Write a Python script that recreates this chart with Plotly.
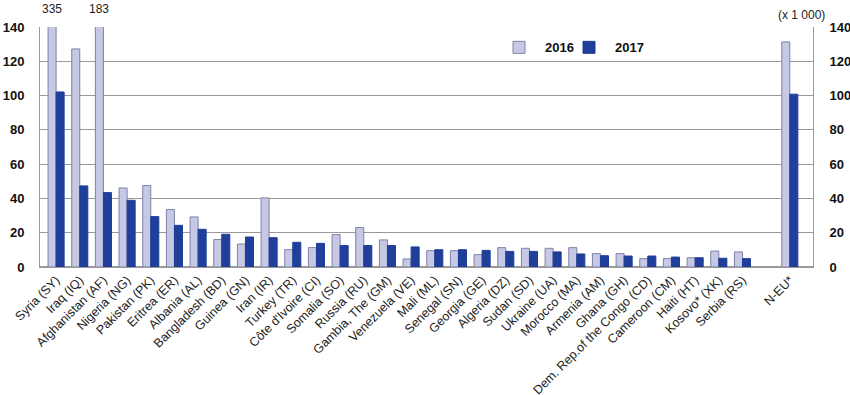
import plotly.graph_objects as go

countries = [
    "Syria (SY)", "Iraq (IQ)", "Afghanistan (AF)", "Nigeria (NG)", "Pakistan (PK)",
    "Eritrea (ER)", "Albania (AL)", "Bangladesh (BD)", "Guinea (GN)", "Iran (IR)",
    "Turkey (TR)", "Côte d'Ivoire (CI)", "Somalia (SO)", "Russia (RU)", "Gambia, The (GM)",
    "Venezuela (VE)", "Mali (ML)", "Senegal (SN)", "Georgia (GE)", "Algeria (DZ)",
    "Sudan (SD)", "Ukraine (UA)", "Morocco (MA)", "Armenia (AM)", "Ghana (GH)",
    "Dem. Rep.of the Congo (CD)", "Cameroon (CM)", "Haiti (HT)", "Kosovo* (XK)", "Serbia (RS)",
    " ", "N-EU*",
]
v2016 = [335, 127.2, 183, 46.1, 47.5, 33.5, 29.2, 16.0, 13.4, 40.3,
         10.1, 11.3, 18.9, 23.0, 15.8, 4.7, 9.5, 9.5, 7.2, 11.3,
         10.9, 10.9, 11.3, 7.8, 7.8, 4.9, 4.9, 5.4, 9.3, 8.8,
         None, 131.3]
v2017 = [102.1, 47.3, 43.4, 38.9, 29.4, 24.3, 22.0, 19.1, 17.5, 17.1,
         14.4, 13.8, 12.5, 12.5, 12.5, 11.7, 10.1, 10.1, 9.7, 9.1,
         9.1, 8.8, 7.6, 6.6, 6.4, 6.4, 5.8, 5.4, 5.1, 4.9,
         None, 100.8]
y_ticks = [0, 20, 40, 60, 80, 100, 120, 140]
y_max = 140

xs = list(range(len(countries)))

fig = go.Figure()
fig.add_trace(go.Bar(
    x=xs, y=v2016, name="2016", legend="legend",
    marker=dict(color="#c6c8e4", line=dict(color="#7e82a8", width=1)),
))
fig.add_trace(go.Bar(
    x=xs, y=v2017, name="2017", legend="legend2",
    marker=dict(color="#1f3f9a", line=dict(color="#1f3f9a", width=1)),
))

# labels for bars exceeding the axis maximum
for i, v in enumerate(v2016):
    if v is not None and v > y_max:
        fig.add_annotation(x=i, y=y_max, xref="x", yref="y", text=f"{v:g}",
                           showarrow=False, yanchor="bottom", xshift=-4, yshift=9,
                           font=dict(family="Liberation Sans, Arial", size=12, color="#222"))

fig.add_annotation(x=1.0, y=1.0, xref="paper", yref="paper", text="(x 1 000)",
                   showarrow=False, xanchor="right", yanchor="bottom", xshift=14, yshift=3,
                   font=dict(family="Liberation Sans, Arial", size=12, color="#222"))

# invisible trace to anchor right axis
fig.add_trace(go.Scatter(x=[xs[0]], y=[0], yaxis="y2", mode="markers",
                         marker=dict(opacity=0), showlegend=False, hoverinfo="skip"))

legend_style = dict(orientation="h", y=0.915, xanchor="left", yanchor="middle",
                    font=dict(family="Liberation Sans, Arial", size=13, color="#111", weight="bold"),
                    itemwidth=42, bgcolor="rgba(255,255,255,0)")

fig.update_layout(
    width=850, height=395,
    margin=dict(l=40, r=37, t=27, b=128),
    paper_bgcolor="white", plot_bgcolor="white",
    barmode="group", bargap=0.32, bargroupgap=0.0,
    font=dict(family="Liberation Sans, Arial", size=12, color="#222"),
    legend=dict(x=(493 - 40) / 773, **legend_style),
    legend2=dict(x=(563 - 40) / 773, **legend_style),
    xaxis=dict(
        range=[-0.68, 31.98], tickmode="array", tickvals=xs, ticktext=countries,
        tickangle=-45, showgrid=False, showline=True, linecolor="#999", linewidth=1,
        ticks="", tickfont=dict(size=12.5, color="#222"), zeroline=False, automargin=False,
    ),
    yaxis=dict(
        range=[0, y_max], tickvals=y_ticks, showgrid=True, gridcolor="#9a9a9a", gridwidth=1,
        showline=True, linecolor="#9a9a9a", linewidth=1, zeroline=True, zerolinecolor="#9a9a9a",
        ticks="", ticklabelstandoff=12, automargin=False,
        tickfont=dict(family="Liberation Sans, Arial", size=13, color="#111", weight="bold"),
    ),
    yaxis2=dict(
        range=[0, y_max], tickvals=y_ticks, overlaying="y", side="right", showgrid=False,
        showline=True, linecolor="#9a9a9a", linewidth=1, zeroline=False,
        ticks="", ticklabelstandoff=13, automargin=False,
        tickfont=dict(family="Liberation Sans, Arial", size=13, color="#111", weight="bold"),
    ),
)

# remove the default 8px page margin so the figure fills the window exactly
fig.write_html("out.html", config={"displayModeBar": False},
               post_script="document.body.style.margin='0';")
